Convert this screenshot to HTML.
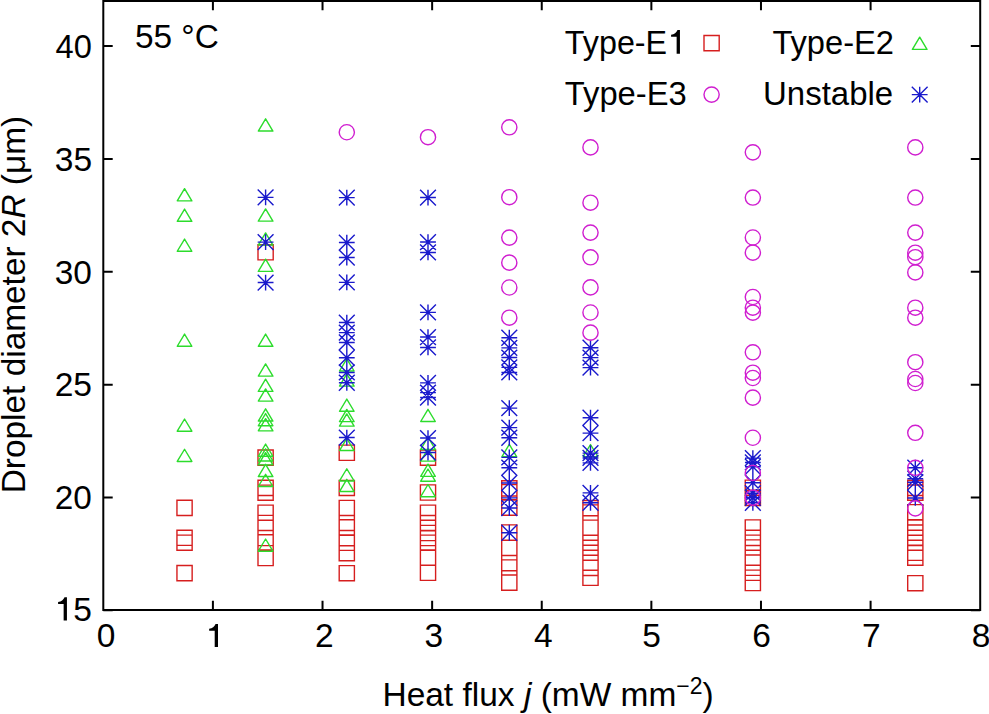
<!DOCTYPE html>
<html><head><meta charset="utf-8"><style>
html,body{margin:0;padding:0;background:#fff;}
svg{display:block;}
text{font-family:"Liberation Sans",sans-serif;font-size:33.5px;fill:#000;}
</style></head><body>
<svg width="989" height="714" viewBox="0 0 989 714">
<rect width="989" height="714" fill="#fff"/>
<g fill="none" stroke-width="1.4">
<path stroke="#d61e1e" d="M176.95 500.30h15.20v15.20h-15.20zM176.95 530.20h15.20v15.20h-15.20zM176.95 535.10h15.20v15.20h-15.20zM176.95 565.50h15.20v15.20h-15.20zM258.00 244.70h15.20v15.20h-15.20zM258.00 450.00h15.20v15.20h-15.20zM258.00 480.30h15.20v15.20h-15.20zM258.00 485.10h15.20v15.20h-15.20zM258.00 505.10h15.20v15.20h-15.20zM258.00 515.40h15.20v15.20h-15.20zM258.00 530.40h15.20v15.20h-15.20zM258.00 534.80h15.20v15.20h-15.20zM258.00 550.40h15.20v15.20h-15.20zM339.20 445.15h15.20v15.20h-15.20zM339.20 480.35h15.20v15.20h-15.20zM339.20 500.40h15.20v15.20h-15.20zM339.20 515.40h15.20v15.20h-15.20zM339.20 519.80h15.20v15.20h-15.20zM339.20 530.50h15.20v15.20h-15.20zM339.20 535.20h15.20v15.20h-15.20zM339.20 545.60h15.20v15.20h-15.20zM339.20 565.60h15.20v15.20h-15.20zM420.40 450.00h15.20v15.20h-15.20zM420.40 484.90h15.20v15.20h-15.20zM420.40 505.10h15.20v15.20h-15.20zM420.40 515.50h15.20v15.20h-15.20zM420.40 525.40h15.20v15.20h-15.20zM420.40 530.40h15.20v15.20h-15.20zM420.40 535.10h15.20v15.20h-15.20zM420.40 550.00h15.20v15.20h-15.20zM420.40 565.20h15.20v15.20h-15.20zM501.70 480.80h15.20v15.20h-15.20zM501.70 484.60h15.20v15.20h-15.20zM501.70 500.10h15.20v15.20h-15.20zM501.70 524.90h15.20v15.20h-15.20zM501.70 540.20h15.20v15.20h-15.20zM501.70 555.60h15.20v15.20h-15.20zM501.70 559.90h15.20v15.20h-15.20zM501.70 575.00h15.20v15.20h-15.20zM582.90 500.50h15.20v15.20h-15.20zM582.90 504.90h15.20v15.20h-15.20zM582.90 520.10h15.20v15.20h-15.20zM582.90 535.10h15.20v15.20h-15.20zM582.90 540.20h15.20v15.20h-15.20zM582.90 545.20h15.20v15.20h-15.20zM582.90 555.20h15.20v15.20h-15.20zM582.90 560.30h15.20v15.20h-15.20zM582.90 570.20h15.20v15.20h-15.20zM745.25 480.10h15.20v15.20h-15.20zM745.25 490.30h15.20v15.20h-15.20zM745.25 519.90h15.20v15.20h-15.20zM745.25 530.30h15.20v15.20h-15.20zM745.25 535.10h15.20v15.20h-15.20zM745.25 539.90h15.20v15.20h-15.20zM745.25 550.10h15.20v15.20h-15.20zM745.25 554.90h15.20v15.20h-15.20zM745.25 565.20h15.20v15.20h-15.20zM745.25 575.40h15.20v15.20h-15.20zM907.70 480.30h15.20v15.20h-15.20zM907.70 485.00h15.20v15.20h-15.20zM907.70 504.60h15.20v15.20h-15.20zM907.70 520.00h15.20v15.20h-15.20zM907.70 525.00h15.20v15.20h-15.20zM907.70 530.30h15.20v15.20h-15.20zM907.70 535.20h15.20v15.20h-15.20zM907.70 545.20h15.20v15.20h-15.20zM907.70 550.10h15.20v15.20h-15.20zM907.70 575.60h15.20v15.20h-15.20zM704.00 35.50h15.20v15.20h-15.20z"/>
<path stroke="#2cdc2c" d="M184.55 188.65L191.85 200.85H177.25zM184.55 209.10L191.85 221.30H177.25zM184.55 239.05L191.85 251.25H177.25zM184.55 334.05L191.85 346.25H177.25zM184.55 419.00L191.85 431.20H177.25zM184.55 449.25L191.85 461.45H177.25zM265.60 118.85L272.90 131.05H258.30zM265.60 208.95L272.90 221.15H258.30zM265.60 232.95L272.90 245.15H258.30zM265.60 259.20L272.90 271.40H258.30zM265.60 334.10L272.90 346.30H258.30zM265.60 363.90L272.90 376.10H258.30zM265.60 379.20L272.90 391.40H258.30zM265.60 388.90L272.90 401.10H258.30zM265.60 408.85L272.90 421.05H258.30zM265.60 413.55L272.90 425.75H258.30zM265.60 418.65L272.90 430.85H258.30zM265.60 444.05L272.90 456.25H258.30zM265.60 448.80L272.90 461.00H258.30zM265.60 452.70L272.90 464.90H258.30zM265.60 464.35L272.90 476.55H258.30zM265.60 474.30L272.90 486.50H258.30zM265.60 539.00L272.90 551.20H258.30zM346.80 358.80L354.10 371.00H339.50zM346.80 373.90L354.10 386.10H339.50zM346.80 399.05L354.10 411.25H339.50zM346.80 409.45L354.10 421.65H339.50zM346.80 413.95L354.10 426.15H339.50zM346.80 438.35L354.10 450.55H339.50zM346.80 468.75L354.10 480.95H339.50zM346.80 479.35L354.10 491.55H339.50zM428.00 409.30L435.30 421.50H420.70zM428.00 437.25L435.30 449.45H420.70zM428.00 448.95L435.30 461.15H420.70zM428.00 464.15L435.30 476.35H420.70zM428.00 469.00L435.30 481.20H420.70zM428.00 484.50L435.30 496.70H420.70zM509.30 444.45L516.60 456.65H502.00zM590.50 444.50L597.80 456.70H583.20zM919.70 37.20L927.00 49.40H912.40z" stroke-linejoin="round"/>
<path stroke="#1a1acc" d="M257.70 197.35h15.80M265.60 189.45v15.80M257.70 189.45l15.80 15.80M257.70 205.25l15.80 -15.80M257.70 242.15h15.80M265.60 234.25v15.80M257.70 234.25l15.80 15.80M257.70 250.05l15.80 -15.80M257.70 282.55h15.80M265.60 274.65v15.80M257.70 274.65l15.80 15.80M257.70 290.45l15.80 -15.80M338.90 197.65h15.80M346.80 189.75v15.80M338.90 189.75l15.80 15.80M338.90 205.55l15.80 -15.80M338.90 242.55h15.80M346.80 234.65v15.80M338.90 234.65l15.80 15.80M338.90 250.45l15.80 -15.80M338.90 257.55h15.80M346.80 249.65v15.80M338.90 249.65l15.80 15.80M338.90 265.45l15.80 -15.80M338.90 282.35h15.80M346.80 274.45v15.80M338.90 274.45l15.80 15.80M338.90 290.25l15.80 -15.80M338.90 322.55h15.80M346.80 314.65v15.80M338.90 314.65l15.80 15.80M338.90 330.45l15.80 -15.80M338.90 332.65h15.80M346.80 324.75v15.80M338.90 324.75l15.80 15.80M338.90 340.55l15.80 -15.80M338.90 342.45h15.80M346.80 334.55v15.80M338.90 334.55l15.80 15.80M338.90 350.35l15.80 -15.80M338.90 357.75h15.80M346.80 349.85v15.80M338.90 349.85l15.80 15.80M338.90 365.65l15.80 -15.80M338.90 372.45h15.80M346.80 364.55v15.80M338.90 364.55l15.80 15.80M338.90 380.35l15.80 -15.80M338.90 382.75h15.80M346.80 374.85v15.80M338.90 374.85l15.80 15.80M338.90 390.65l15.80 -15.80M338.90 437.55h15.80M346.80 429.65v15.80M338.90 429.65l15.80 15.80M338.90 445.45l15.80 -15.80M420.10 197.55h15.80M428.00 189.65v15.80M420.10 189.65l15.80 15.80M420.10 205.45l15.80 -15.80M420.10 242.05h15.80M428.00 234.15v15.80M420.10 234.15l15.80 15.80M420.10 249.95l15.80 -15.80M420.10 252.45h15.80M428.00 244.55v15.80M420.10 244.55l15.80 15.80M420.10 260.35l15.80 -15.80M420.10 312.35h15.80M428.00 304.45v15.80M420.10 304.45l15.80 15.80M420.10 320.25l15.80 -15.80M420.10 337.05h15.80M428.00 329.15v15.80M420.10 329.15l15.80 15.80M420.10 344.95l15.80 -15.80M420.10 347.45h15.80M428.00 339.55v15.80M420.10 339.55l15.80 15.80M420.10 355.35l15.80 -15.80M420.10 382.85h15.80M428.00 374.95v15.80M420.10 374.95l15.80 15.80M420.10 390.75l15.80 -15.80M420.10 392.65h15.80M428.00 384.75v15.80M420.10 384.75l15.80 15.80M420.10 400.55l15.80 -15.80M420.10 397.55h15.80M428.00 389.65v15.80M420.10 389.65l15.80 15.80M420.10 405.45l15.80 -15.80M420.10 438.05h15.80M428.00 430.15v15.80M420.10 430.15l15.80 15.80M420.10 445.95l15.80 -15.80M420.10 452.55h15.80M428.00 444.65v15.80M420.10 444.65l15.80 15.80M420.10 460.45l15.80 -15.80M501.40 337.75h15.80M509.30 329.85v15.80M501.40 329.85l15.80 15.80M501.40 345.65l15.80 -15.80M501.40 347.85h15.80M509.30 339.95v15.80M501.40 339.95l15.80 15.80M501.40 355.75l15.80 -15.80M501.40 357.55h15.80M509.30 349.65v15.80M501.40 349.65l15.80 15.80M501.40 365.45l15.80 -15.80M501.40 367.35h15.80M509.30 359.45v15.80M501.40 359.45l15.80 15.80M501.40 375.25l15.80 -15.80M501.40 372.45h15.80M509.30 364.55v15.80M501.40 364.55l15.80 15.80M501.40 380.35l15.80 -15.80M501.40 408.15h15.80M509.30 400.25v15.80M501.40 400.25l15.80 15.80M501.40 416.05l15.80 -15.80M501.40 427.65h15.80M509.30 419.75v15.80M501.40 419.75l15.80 15.80M501.40 435.55l15.80 -15.80M501.40 437.75h15.80M509.30 429.85v15.80M501.40 429.85l15.80 15.80M501.40 445.65l15.80 -15.80M501.40 457.35h15.80M509.30 449.45v15.80M501.40 449.45l15.80 15.80M501.40 465.25l15.80 -15.80M501.40 467.75h15.80M509.30 459.85v15.80M501.40 459.85l15.80 15.80M501.40 475.65l15.80 -15.80M501.40 482.95h15.80M509.30 475.05v15.80M501.40 475.05l15.80 15.80M501.40 490.85l15.80 -15.80M501.40 497.85h15.80M509.30 489.95v15.80M501.40 489.95l15.80 15.80M501.40 505.75l15.80 -15.80M501.40 508.05h15.80M509.30 500.15v15.80M501.40 500.15l15.80 15.80M501.40 515.95l15.80 -15.80M501.40 532.75h15.80M509.30 524.85v15.80M501.40 524.85l15.80 15.80M501.40 540.65l15.80 -15.80M582.60 347.75h15.80M590.50 339.85v15.80M582.60 339.85l15.80 15.80M582.60 355.65l15.80 -15.80M582.60 357.65h15.80M590.50 349.75v15.80M582.60 349.75l15.80 15.80M582.60 365.55l15.80 -15.80M582.60 367.65h15.80M590.50 359.75v15.80M582.60 359.75l15.80 15.80M582.60 375.55l15.80 -15.80M582.60 417.75h15.80M590.50 409.85v15.80M582.60 409.85l15.80 15.80M582.60 425.65l15.80 -15.80M582.60 433.15h15.80M590.50 425.25v15.80M582.60 425.25l15.80 15.80M582.60 441.05l15.80 -15.80M582.60 453.15h15.80M590.50 445.25v15.80M582.60 445.25l15.80 15.80M582.60 461.05l15.80 -15.80M582.60 457.95h15.80M590.50 450.05v15.80M582.60 450.05l15.80 15.80M582.60 465.85l15.80 -15.80M582.60 462.85h15.80M590.50 454.95v15.80M582.60 454.95l15.80 15.80M582.60 470.75l15.80 -15.80M582.60 492.85h15.80M590.50 484.95v15.80M582.60 484.95l15.80 15.80M582.60 500.75l15.80 -15.80M582.60 502.75h15.80M590.50 494.85v15.80M582.60 494.85l15.80 15.80M582.60 510.65l15.80 -15.80M744.95 458.15h15.80M752.85 450.25v15.80M744.95 450.25l15.80 15.80M744.95 466.05l15.80 -15.80M744.95 462.45h15.80M752.85 454.55v15.80M744.95 454.55l15.80 15.80M744.95 470.35l15.80 -15.80M744.95 466.75h15.80M752.85 458.85v15.80M744.95 458.85l15.80 15.80M744.95 474.65l15.80 -15.80M744.95 482.75h15.80M752.85 474.85v15.80M744.95 474.85l15.80 15.80M744.95 490.65l15.80 -15.80M744.95 493.25h15.80M752.85 485.35v15.80M744.95 485.35l15.80 15.80M744.95 501.15l15.80 -15.80M744.95 497.75h15.80M752.85 489.85v15.80M744.95 489.85l15.80 15.80M744.95 505.65l15.80 -15.80M744.95 502.75h15.80M752.85 494.85v15.80M744.95 494.85l15.80 15.80M744.95 510.65l15.80 -15.80M907.40 467.75h15.80M915.30 459.85v15.80M907.40 459.85l15.80 15.80M907.40 475.65l15.80 -15.80M907.40 478.75h15.80M915.30 470.85v15.80M907.40 470.85l15.80 15.80M907.40 486.65l15.80 -15.80M907.40 482.25h15.80M915.30 474.35v15.80M907.40 474.35l15.80 15.80M907.40 490.15l15.80 -15.80M907.40 497.95h15.80M915.30 490.05v15.80M907.40 490.05l15.80 15.80M907.40 505.85l15.80 -15.80M911.80 94.60h15.80M919.70 86.70v15.80M911.80 86.70l15.80 15.80M911.80 102.50l15.80 -15.80"/>
<g stroke="#d01ed0"><circle cx="346.80" cy="132.25" r="7.6"/><circle cx="428.00" cy="137.20" r="7.6"/><circle cx="509.30" cy="127.30" r="7.6"/><circle cx="509.30" cy="197.20" r="7.6"/><circle cx="509.30" cy="237.60" r="7.6"/><circle cx="509.30" cy="262.65" r="7.6"/><circle cx="509.30" cy="287.50" r="7.6"/><circle cx="509.30" cy="317.70" r="7.6"/><circle cx="590.50" cy="147.40" r="7.6"/><circle cx="590.50" cy="202.70" r="7.6"/><circle cx="590.50" cy="232.60" r="7.6"/><circle cx="590.50" cy="257.30" r="7.6"/><circle cx="590.50" cy="287.40" r="7.6"/><circle cx="590.50" cy="312.50" r="7.6"/><circle cx="590.50" cy="332.65" r="7.6"/><circle cx="752.85" cy="152.35" r="7.6"/><circle cx="752.85" cy="197.55" r="7.6"/><circle cx="752.85" cy="237.50" r="7.6"/><circle cx="752.85" cy="252.60" r="7.6"/><circle cx="752.85" cy="297.00" r="7.6"/><circle cx="752.85" cy="307.70" r="7.6"/><circle cx="752.85" cy="312.60" r="7.6"/><circle cx="752.85" cy="352.30" r="7.6"/><circle cx="752.85" cy="372.70" r="7.6"/><circle cx="752.85" cy="378.00" r="7.6"/><circle cx="752.85" cy="397.65" r="7.6"/><circle cx="752.85" cy="437.75" r="7.6"/><circle cx="752.85" cy="473.00" r="7.6"/><circle cx="752.85" cy="497.70" r="7.6"/><circle cx="915.30" cy="147.40" r="7.6"/><circle cx="915.30" cy="197.55" r="7.6"/><circle cx="915.30" cy="232.60" r="7.6"/><circle cx="915.30" cy="252.70" r="7.6"/><circle cx="915.30" cy="257.20" r="7.6"/><circle cx="915.30" cy="272.40" r="7.6"/><circle cx="915.30" cy="307.70" r="7.6"/><circle cx="915.30" cy="317.70" r="7.6"/><circle cx="915.30" cy="362.20" r="7.6"/><circle cx="915.30" cy="379.00" r="7.6"/><circle cx="915.30" cy="383.00" r="7.6"/><circle cx="915.30" cy="432.80" r="7.6"/><circle cx="915.30" cy="467.80" r="7.6"/><circle cx="915.30" cy="508.40" r="7.6"/><circle cx="711.60" cy="94.60" r="7.6"/></g>
</g>
<path fill="none" stroke="#000" stroke-width="2" d="M103.3 0.9H980.2V610.1H103.3ZM103.30 610.10v-9.4M103.30 0.90v9.4M212.91 610.10v-9.4M212.91 0.90v9.4M322.53 610.10v-9.4M322.53 0.90v9.4M432.14 610.10v-9.4M432.14 0.90v9.4M541.75 610.10v-9.4M541.75 0.90v9.4M651.36 610.10v-9.4M651.36 0.90v9.4M760.98 610.10v-9.4M760.98 0.90v9.4M870.59 610.10v-9.4M870.59 0.90v9.4M980.20 610.10v-9.4M980.20 0.90v9.4M103.30 610.35h9.4M980.20 610.35h-9.4M103.30 497.50h9.4M980.20 497.50h-9.4M103.30 384.65h9.4M980.20 384.65h-9.4M103.30 271.80h9.4M980.20 271.80h-9.4M103.30 158.95h9.4M980.20 158.95h-9.4M103.30 46.10h9.4M980.20 46.10h-9.4"/>

<path fill="#000" d="M679.94 53.80L676.64 53.80L676.64 36.66L671.09 36.66L671.09 34.76C674.44 34.36 676.34 32.66 677.54 30.06L679.94 30.06ZM218.00 647.10L214.70 647.10L214.70 630.70L209.15 630.70L209.15 628.80C212.50 628.40 214.40 626.70 215.60 624.10L218.00 624.10ZM66.94 620.50L63.64 620.50L63.64 603.90L58.09 603.90L58.09 602.00C61.44 601.60 63.34 599.90 64.54 597.30L66.94 597.30Z"/>
<text x="134.93" y="47.80" textLength="83.93" lengthAdjust="spacingAndGlyphs">55 °C</text><text x="564.86" y="53.80" textLength="102.31" lengthAdjust="spacingAndGlyphs">Type-E</text><text x="772.42" y="53.80" textLength="121.58" lengthAdjust="spacingAndGlyphs">Type-E2</text><text x="564.83" y="105.10" textLength="121.97" lengthAdjust="spacingAndGlyphs">Type-E3</text><text x="763.07" y="105.10" textLength="130.13" lengthAdjust="spacingAndGlyphs">Unstable</text><text x="382.46" y="706.30" textLength="331.28" lengthAdjust="spacingAndGlyphs">Heat flux <tspan font-style="italic">j</tspan> (mW mm<tspan dy="-12.2" font-size="23">−2</tspan><tspan dy="12.2">)</tspan></text><text transform="translate(25.2 493.25) rotate(-90)" textLength="377.36" lengthAdjust="spacingAndGlyphs">Droplet diameter 2<tspan font-style="italic">R</tspan> (μm)</text><text x="96.64" y="647.30">0</text><text x="315.01" y="647.30">2</text><text x="424.51" y="647.30">3</text><text x="533.88" y="647.30">4</text><text x="642.37" y="647.30">5</text><text x="752.23" y="647.30">6</text><text x="861.99" y="647.30">7</text><text x="971.68" y="647.30">8</text><text x="55.59" y="58.10" textLength="36.27" lengthAdjust="spacingAndGlyphs">40</text><text x="54.75" y="170.54" textLength="37.30" lengthAdjust="spacingAndGlyphs">35</text><text x="54.75" y="283.54" textLength="37.15" lengthAdjust="spacingAndGlyphs">30</text><text x="54.69" y="395.50" textLength="37.36" lengthAdjust="spacingAndGlyphs">25</text><text x="54.66" y="508.54" textLength="37.07" lengthAdjust="spacingAndGlyphs">20</text><text x="73.27" y="620.90" textLength="18.67" lengthAdjust="spacingAndGlyphs">5</text>
</svg>
</body></html>
